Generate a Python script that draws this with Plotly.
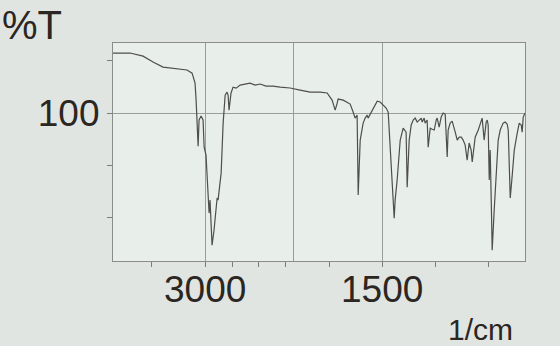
import plotly.graph_objects as go

# IR spectrum (wavenumber in 1/cm, %T)
wavenumber = [3780, 3636, 3525, 3441, 3356, 3237, 3153, 3110, 3085, 3076, 3068, 3059, 3051, 3034,
              3017, 3008, 2992, 2983, 2975, 2966, 2958, 2949, 2941, 2924, 2907, 2898, 2890, 2881,
              2864, 2847, 2830, 2814, 2805, 2797, 2780, 2763, 2737, 2703, 2661, 2619, 2576, 2534,
              2483, 2424, 2364, 2280, 2195, 2110, 2025, 1966, 1924, 1898, 1881, 1873, 1830, 1797,
              1771, 1746, 1729, 1712, 1703, 1686, 1661, 1644, 1627, 1619, 1585, 1559, 1542, 1517,
              1500, 1466, 1449, 1424, 1407, 1398, 1390, 1373, 1347, 1322, 1297, 1288, 1271, 1254,
              1237, 1220, 1203, 1186, 1169, 1161, 1144, 1136, 1119, 1110, 1093, 1076, 1059, 1042,
              1034, 1017, 1000, 983, 966, 949, 941, 924, 907, 881, 864, 847, 830, 814, 797, 780,
              763, 746, 737, 720, 712, 686, 661, 653, 636, 619, 610, 602, 593, 585, 576, 568, 551,
              534, 517, 500, 475, 458, 441, 432, 415, 398, 381, 356, 339, 322, 314, 305, 290]
transmittance = [128.7, 128.7, 127.2, 124.4, 122.0, 121.0, 120.6, 119.1, 114.3, 106.2, 95.2, 84.2, 96.7, 98.6,
                 96.7, 83.7, 79.9, 71.3, 61.8, 52.2, 58.4, 46.5, 36.9, 44.1, 56.0, 59.4, 58.4, 62.2,
                 71.3, 95.2, 108.6, 110.0, 108.6, 101.4, 109.6, 112.4, 111.9, 113.4, 113.9, 114.3, 113.4, 113.9,
                 112.9, 112.9, 112.4, 112.0, 111.0, 110.0, 110.0, 109.6, 106.2, 101.4, 104.8, 106.7, 106.2, 105.3,
                 104.3, 100.5, 97.6, 99.0, 60.8, 87.1, 95.2, 97.6, 99.0, 97.6, 101.4, 104.3, 105.7, 105.3,
                 104.3, 102.4, 100.5, 77.5, 56.0, 49.8, 58.4, 68.0, 87.1, 92.8, 90.9, 64.6, 87.1, 94.3,
                 96.7, 97.6, 95.7, 96.7, 97.6, 95.7, 97.6, 95.2, 96.7, 83.7, 92.8, 92.3, 91.9, 96.7,
                 97.6, 93.3, 98.1, 100.0, 99.5, 79.0, 91.9, 95.2, 96.2, 90.9, 87.1, 88.5, 88.5, 87.1, 84.7, 77.5,
                 85.7, 82.3, 76.6, 84.7, 88.5, 91.9, 96.7, 97.6, 87.1, 95.7, 96.7, 94.3, 68.0, 82.3, 58.4, 34.5, 53.6,
                 72.8, 87.1, 91.9, 95.2, 95.7, 94.8, 91.9, 59.4, 70.4, 82.3, 90.4, 95.2, 94.3, 90.9, 98.1, 100.0]

x_grid_vals = [3000, 2250, 1500]
x_label_vals = [3000, 1500]
x_label_text = ["3000", "1500"]
x_minor_ticks = [3450, 3000, 2770, 2550, 2320, 1950, 1500, 1050, 600]
y_tick_vals = [100]
y_tick_text = ["100"]
y_minor_ticks = [125, 100, 75, 50]

ink = "#2b2622"
family = "Liberation Sans, Arial, sans-serif"
label_font = dict(family=family, size=37, color=ink)

fig = go.Figure()
fig.add_trace(go.Scatter(x=wavenumber, y=transmittance, mode="lines",
                         line=dict(color="#4e4e4e", width=1.2), hoverinfo="skip"))

fig.update_layout(
    width=560, height=346,
    margin=dict(l=113, r=35, t=43, b=85),
    paper_bgcolor="#e1e5e1",
    plot_bgcolor="#e8eee9",
    showlegend=False,
    font=label_font,
)
fig.update_xaxes(
    range=[3780, 290], tickmode="array", tickvals=x_grid_vals, showticklabels=False,
    showgrid=True, gridcolor="#9a9e9b", gridwidth=1, zeroline=False,
    showline=True, linecolor="#8a8d8a", linewidth=1.2, mirror=True, ticks="",
    minor=dict(tickmode="array", tickvals=x_minor_ticks, ticks="outside", ticklen=5,
               tickcolor="#7a7d7a", showgrid=False),
)
fig.update_yaxes(
    range=[29.3, 133.5], tickmode="array", tickvals=y_tick_vals, ticktext=y_tick_text,
    showgrid=True, gridcolor="#9a9e9b", gridwidth=1, zeroline=False,
    showline=True, linecolor="#8a8d8a", linewidth=1.2, mirror=True,
    ticks="", ticklabelstandoff=5, tickfont=label_font,
    minor=dict(tickmode="array", tickvals=y_minor_ticks, ticks="outside", ticklen=5,
               tickcolor="#7a7d7a", showgrid=False),
)
for v, t in zip(x_label_vals, x_label_text):
    fig.add_annotation(text=t, xref="x", yref="paper", x=v, y=-(289 - 261)/218,
                       xanchor="center", yanchor="middle", showarrow=False, font=label_font)
fig.add_annotation(text="%T", xref="paper", yref="paper", x=-113/412, y=1 + 42/218,
                   xanchor="left", yanchor="top", showarrow=False,
                   font=dict(family=family, size=40, color=ink))
fig.add_annotation(text="1/cm", xref="paper", yref="paper", x=(480 - 113)/412, y=-(311 - 261)/218,
                   xanchor="center", yanchor="top", showarrow=False,
                   font=dict(family=family, size=30, color=ink))

fig.write_html("out.html")
